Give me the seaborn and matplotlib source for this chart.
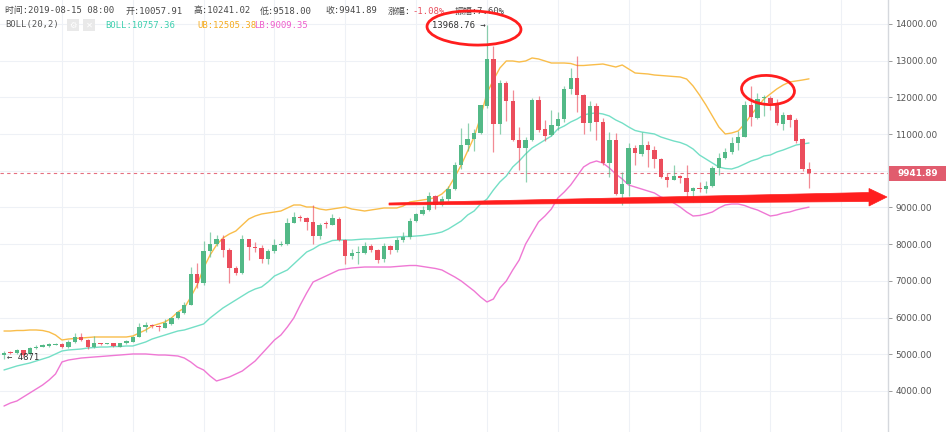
import matplotlib
matplotlib.use("Agg")
import matplotlib.pyplot as plt
import numpy as np
import pandas as pd
import seaborn as sns
from matplotlib.patches import Ellipse, Polygon, Rectangle
from matplotlib.ticker import FuncFormatter

# ---------------- data (BTC daily, 2019-04-12 .. 2019-08-15) ----------------
dates = list(pd.date_range("2019-04-12", "2019-08-15", freq="D").strftime("%Y-%m-%d"))

opens = [4990, 5060, 5030, 5110, 5000, 5160, 5205, 5235, 5255, 5271,
         5207, 5326, 5462, 5390, 5207, 5298, 5290, 5298, 5207, 5298,
         5343, 5480, 5752, 5790, 5770, 5725, 5825, 5980, 6115, 6340,
         7190, 6950, 7820, 8005, 8130, 7830, 7340, 7220, 8130, 7910,
         7905, 7590, 7820, 7965, 8010, 8590, 8740, 8700, 8610, 8215,
         8555, 8535, 8695, 8115, 7670, 7760, 7770, 7955, 7845, 7585,
         7955, 7850, 8110, 8200, 8640, 8810, 8930, 9300, 9070, 9220,
         9500, 10170, 10700, 10860, 11040, 11770, 13050, 11280, 12400, 11890,
         10830, 10620, 10830, 11930, 11130, 10970, 11230, 11400, 12220, 12520,
         12070, 11310, 11760, 11340, 10200, 10830, 9380, 9640, 10610, 10460,
         10710, 10570, 10310, 9840, 9750, 9850, 9810, 9440, 9530, 9500,
         9580, 10070, 10340, 10500, 10770, 10930, 11790, 11430, 11975, 11990,
         11840, 11275, 11520, 11380, 10860, 10057.91]
highs = [5080, 5100, 5140, 5130, 5200, 5240, 5280, 5300, 5320, 5300,
         5400, 5590, 5570, 5420, 5498, 5320, 5320, 5310, 5320, 5390,
         5500, 5844, 5880, 5820, 5790, 5960, 6020, 6180, 6420, 7390,
         7500, 8100, 8330, 8250, 8260, 7900, 7400, 8260, 8150, 8050,
         7990, 7880, 8140, 8100, 8710, 8880, 8800, 8740, 9060, 8580,
         8620, 8810, 8740, 8130, 7860, 7950, 8060, 8000, 7880, 8020,
         7990, 8200, 8320, 8700, 8860, 9050, 9420, 9330, 9300, 9580,
         10230, 11160, 11300, 11150, 11800, 13968.76, 13400, 12480, 12450, 12200,
         11200, 10920, 11980, 12030, 11380, 11650, 11600, 12300, 12800, 13130,
         12100, 11900, 11840, 11450, 11070, 11030, 9980, 10760, 10700, 11070,
         10800, 10680, 10340, 9930, 10160, 9880, 10160, 9570, 9700, 9720,
         10120, 10480, 10630, 10920, 11080, 11900, 12300, 12130, 12060, 12040,
         11950, 11600, 11560, 11450, 10880, 10241.02]
lows = [4871, 5010, 5010, 4935, 4990, 5150, 5195, 5190, 5240, 5170,
        5180, 5310, 5370, 5144, 5180, 5260, 5270, 5210, 5190, 5290,
        5330, 5460, 5600, 5720, 5630, 5710, 5800, 5970, 6100, 6330,
        6800, 6880, 7650, 7950, 7650, 6930, 7150, 7200, 7560, 7800,
        7500, 7460, 7760, 7940, 7990, 8570, 8620, 8400, 8000, 8150,
        8450, 8520, 8090, 7470, 7600, 7450, 7740, 7780, 7500, 7520,
        7720, 7800, 8050, 8150, 8600, 8800, 8900, 8950, 9040, 9180,
        9480, 10050, 10550, 10550, 11000, 11700, 10520, 11000, 11350, 10800,
        10020, 9700, 10800, 11050, 10800, 10950, 11100, 11320, 12100, 11600,
        11000, 11080, 10850, 10150, 9840, 9340, 9070, 9300, 10150, 10400,
        10100, 10080, 9800, 9550, 9740, 9680, 9280, 9150, 9420, 9400,
        9560, 9880, 10330, 10450, 10560, 10920, 11220, 11400, 11500, 11660,
        11250, 11110, 11200, 10770, 10000, 9518]
closes = [5045, 5030, 5110, 4990, 5160, 5190, 5245, 5270, 5290, 5207,
          5343, 5462, 5390, 5190, 5298, 5290, 5300, 5235, 5298, 5371,
          5480, 5752, 5798, 5770, 5740, 5850, 5990, 6160, 6340, 7190,
          6950, 7820, 8005, 8130, 7830, 7340, 7220, 8130, 7910, 7900,
          7590, 7820, 7965, 8010, 8590, 8740, 8700, 8610, 8210, 8525,
          8540, 8700, 8115, 7670, 7760, 7790, 7960, 7845, 7580, 7955,
          7845, 8110, 8200, 8640, 8810, 8930, 9300, 9070, 9220, 9500,
          10170, 10710, 10860, 11040, 11790, 13050, 11280, 12400, 11890, 10830,
          10620, 10830, 11930, 11120, 10960, 11240, 11400, 12230, 12520, 12070,
          11310, 11760, 11330, 10200, 10830, 9370, 9650, 10610, 10480, 10710,
          10570, 10310, 9840, 9740, 9850, 9810, 9410, 9530, 9500, 9580,
          10070, 10340, 10520, 10770, 10930, 11790, 11470, 11950, 12010, 11840,
          11290, 11520, 11380, 10820, 10060, 9941.89]

boll_mid = [4572, 4626, 4681, 4722, 4762, 4817, 4871, 4926, 5008, 5089,
            5117, 5130, 5144, 5171, 5185, 5198, 5198, 5212, 5212, 5226,
            5226, 5280, 5335, 5416, 5471, 5525, 5580, 5634, 5662, 5716,
            5771, 5826, 5989, 6125, 6261, 6370, 6479, 6588, 6697, 6779,
            6834, 6970, 7133, 7215, 7297, 7460, 7624, 7787, 7869, 7978,
            8032, 8100, 8114, 8114, 8114, 8128, 8141, 8141, 8155, 8169,
            8182, 8196, 8209, 8209, 8223, 8236, 8264, 8291, 8332, 8414,
            8523, 8632, 8796, 8904, 9095, 9231, 9477, 9695, 9858, 10104,
            10267, 10458, 10621, 10730, 10839, 10948, 11139, 11221, 11330, 11411,
            11520, 11561, 11575, 11548, 11493, 11384, 11302, 11193, 11098, 11057,
            11030, 11003, 10921, 10866, 10812, 10771, 10703, 10594, 10430, 10321,
            10212, 10104, 10062, 10049, 10104, 10185, 10267, 10321, 10403, 10430,
            10512, 10567, 10635, 10703, 10730, 10757.36]
boll_up = [5634, 5634, 5648, 5648, 5662, 5662, 5648, 5607, 5525, 5389,
           5416, 5430, 5444, 5457, 5471, 5471, 5471, 5471, 5471, 5471,
           5498, 5580, 5662, 5771, 5826, 5880, 5989, 6152, 6261, 6561,
           6888, 7351, 7705, 7978, 8169, 8278, 8359, 8523, 8686, 8768,
           8823, 8850, 8877, 8904, 8986, 9068, 9068, 9013, 9013, 8959,
           8932, 8959, 8986, 9013, 8959, 8932, 8904, 8932, 8959, 8986,
           8986, 8986, 9041, 9150, 9177, 9204, 9231, 9272, 9368, 9531,
           9831, 10158, 10539, 10921, 11466, 12120, 12474, 12801, 12992, 12992,
           12965, 12992, 13074, 13047, 12992, 12937, 12937, 12937, 12924, 12869,
           12869, 12883, 12896, 12910, 12869, 12828, 12883, 12774, 12665, 12651,
           12638, 12610, 12597, 12583, 12569, 12556, 12501, 12311, 12065, 11793,
           11493, 11194, 11003, 11030, 11085, 11275, 11520, 11738, 11956, 12093,
           12229, 12338, 12420, 12447, 12474, 12505.38]
boll_low = [3590, 3672, 3727, 3836, 3945, 4054, 4163, 4299, 4463, 4790,
            4844, 4871, 4898, 4912, 4926, 4939, 4953, 4967, 4980, 4994,
            5008, 5008, 5008, 4994, 4980, 4980, 4967, 4953, 4898, 4790,
            4653, 4572, 4408, 4272, 4326, 4381, 4463, 4544, 4681, 4817,
            5008, 5198, 5389, 5525, 5743, 5989, 6343, 6670, 6970, 7051,
            7133, 7215, 7297, 7324, 7351, 7365, 7378, 7378, 7378, 7378,
            7378, 7392, 7406, 7419, 7419, 7392, 7365, 7338, 7297, 7201,
            7106, 6997, 6861, 6725, 6561, 6425, 6506, 6806, 6997, 7297,
            7569, 8005, 8305, 8605, 8768, 8959, 9259, 9422, 9613, 9858,
            10104, 10212, 10267, 10212, 10076, 9913, 9776, 9613, 9558, 9504,
            9449, 9395, 9286, 9231, 9122, 9013, 8877, 8768, 8782, 8823,
            8877, 8986, 9068, 9095, 9095, 9054, 8986, 8932, 8850, 8768,
            8795, 8850, 8877, 8932, 8973, 9009.35]

y_ticks = [4000, 5000, 6000, 7000, 8000, 9000, 10000, 11000, 12000, 13000, 14000]
last_price = 9941.89
peak_high = 13968.76
low_label = "4871"

header_items = [("时间:2019-08-15 08:00", 5), ("开:10057.91", 126), ("高:10241.02", 194),
                ("低:9518.00", 260), ("收:9941.89", 325), ("涨幅:", 388), ("振幅:7.60%", 455)]
change_pct = "-1.08%"
boll_title = "BOLL(20,2)"
boll_texts = [("BOLL:10757.36", 105), ("UB:12505.38", 197), ("LB:9009.35", 254)]

# ---------------- figure ----------------
W, H = 949, 432
sns.set_theme(style="white")
plt.rcParams['font.family'] = ['DejaVu Sans', 'Noto Sans CJK SC']
MONO = ['DejaVu Sans Mono', 'Noto Sans CJK SC']

UP = '#53b987'
DOWN = '#eb4d5c'
C_MID = '#74dfc6'
C_UP = '#f9bd4a'
C_LOW = '#ef78d4'

df = pd.DataFrame({"date": dates, "open": opens, "high": highs, "low": lows, "close": closes,
                   "mid": boll_mid, "ub": boll_up, "lb": boll_low})
df["i"] = np.arange(len(df))

fig = plt.figure(figsize=(W / 100, H / 100), dpi=100)
fig.patch.set_facecolor('white')
ax = fig.add_axes([0, 0, 888 / W, 1])
ax.set_facecolor('white')

# grid
for t in y_ticks:
    ax.axhline(t, color='#eef1f6', lw=0.8, zorder=0)
for gx in range(9, 137, 11):
    ax.axvline(gx, color='#eef1f6', lw=0.8, zorder=0)

# bollinger lines
sns.lineplot(data=df, x="i", y="ub", ax=ax, color=C_UP, lw=1.0, legend=False, zorder=2)
sns.lineplot(data=df, x="i", y="mid", ax=ax, color=C_MID, lw=1.0, legend=False, zorder=2)
sns.lineplot(data=df, x="i", y="lb", ax=ax, color=C_LOW, lw=1.0, legend=False, zorder=2)

# candles
is_up = df["close"] >= df["open"]
cols = np.where(is_up, UP, DOWN)
ax.vlines(df["i"], df["low"], df["high"], colors=cols, lw=0.9, alpha=0.65, zorder=3)
body_lo = np.minimum(df["open"], df["close"])
body_h = np.maximum(np.abs(df["close"] - df["open"]), 30)
ax.bar(df["i"], body_h, bottom=body_lo, width=0.68, color=cols, lw=0, zorder=4)

# last price dashed line
ax.axhline(last_price, color='#e66f7f', lw=0.8, ls=(0, (3, 3)), zorder=1)

ax.set_xlim(-0.62, 137.27)
ax.set_ylim(2882, 14654)
ax.set_xlabel("")
ax.set_ylabel("")
ax.set_xticks([])
ax.yaxis.tick_right()
ax.set_yticks(y_ticks)
ax.yaxis.set_major_formatter(FuncFormatter(lambda v, p: f"{v:.2f}"))
ax.tick_params(axis='y', which='both', right=True, left=False, length=3, width=0.7,
               color='#9a9a9a', labelsize=6.4, labelcolor='#555555', pad=2.3)
for s in ['left', 'top', 'bottom']:
    ax.spines[s].set_visible(False)
ax.spines['right'].set_color('#d5d8dd')
ax.spines['right'].set_linewidth(1.0)

T = fig.dpi_scale_trans
def P(x, y):
    return (x / 100.0, (H - y) / 100.0)

# price tag
tag = Rectangle(P(889, 181), 57 / 100.0, 15.5 / 100.0, transform=T, facecolor='#e15c6e',
                edgecolor='none', zorder=10)
fig.add_artist(tag)
fig.text(*P(897, 173.5), f"{last_price:.2f}", transform=T, color='white', fontsize=6.4,
         fontweight='bold', va='center', ha='left', zorder=11)

# header line 1
for txt, px in header_items:
    fig.text(*P(px, 11), txt, transform=T, family=MONO, fontsize=6.4, color='#474747',
             va='center', ha='left')
fig.text(*P(412, 11), change_pct, transform=T, family=MONO, fontsize=6.4, color='#e8505f',
         va='center', ha='left')

# header line 2
fig.text(*P(5, 25), boll_title, transform=T, family=MONO, fontsize=6.4, color='#555555',
         va='center', ha='left')
for bx, sym in [(67, "⚙"), (83, "✕")]:
    fig.add_artist(Rectangle(P(bx, 31), 12 / 100.0, 12 / 100.0, transform=T,
                             facecolor='#e9e9e9', edgecolor='none'))
    fig.text(*P(bx + 6, 25), sym, transform=T, family=['DejaVu Sans'], fontsize=6,
             color='white', va='center', ha='center')
for (txt, px), c in zip(boll_texts, ['#3ccfae', '#f5ab1f', '#ee5ccc']):
    fig.text(*P(px, 25), txt, transform=T, family=MONO, fontsize=6.4, color=c,
             va='center', ha='left')

# high / low markers
fig.text(*P(432, 25), f"{peak_high:.2f} →", transform=T, family=MONO, fontsize=6.4,
         color='#333333', va='center', ha='left')
fig.text(*P(7, 358), f"← {low_label}", transform=T, family=MONO, fontsize=6.4,
         color='#333333', va='center', ha='left')

# hand-drawn annotations
RED = '#ff1e1e'
fig.add_artist(Ellipse(P(474, 28), 94 / 100.0, 34 / 100.0, angle=-2, transform=T,
                       fill=False, edgecolor=RED, lw=2.0, zorder=12))
fig.add_artist(Ellipse(P(768, 90), 53 / 100.0, 29 / 100.0, angle=-4, transform=T,
                       fill=False, edgecolor=RED, lw=2.0, zorder=12))
arrow_pts = [P(389, 203), P(869, 192.5), P(869, 188.5), P(887, 197), P(869, 206),
             P(869, 201.5), P(389, 205)]
fig.add_artist(Polygon(arrow_pts, closed=True, transform=T, facecolor=RED,
                       edgecolor=RED, lw=0.5, zorder=12))

fig.savefig("out.png", dpi=100)
